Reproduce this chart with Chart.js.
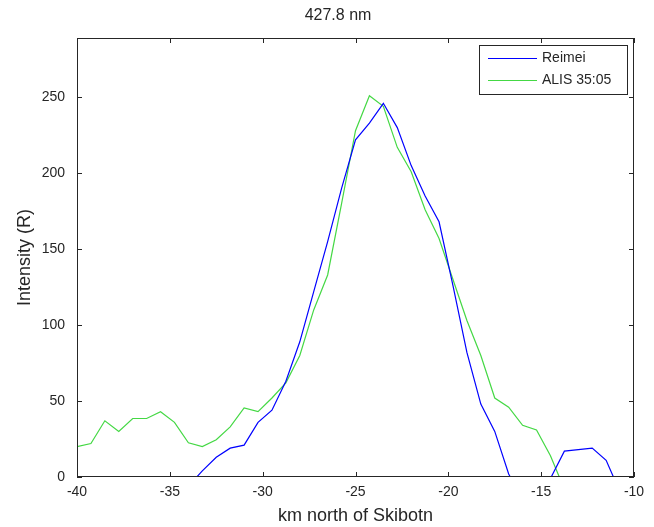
<!DOCTYPE html>
<html>
<head>
<meta charset="utf-8">
<script src="https://cdn.jsdelivr.net/npm/chart.js@4/dist/chart.umd.min.js"></script>
<style>
  html, body { margin: 0; padding: 0; background: #fff; }
  #wrap { width: 654px; height: 527px; }
</style>
</head>
<body>
<div id="wrap"><canvas id="profileChart" width="654" height="527"></canvas></div>
<script>
// distance grid (km north of Skibotn)
const kmNorth = [-40, -39.25, -38.5, -37.75, -37, -36.25, -35.5, -34.75, -34, -33.25,
    -32.5, -31.75, -31, -30.25, -29.5, -28.75, -28, -27.25, -26.5, -25.75,
    -25, -24.25, -23.5, -22.75, -22, -21.25, -20.5, -19.75, -19, -18.25,
    -17.5, -16.75, -16, -15.25, -14.5, -13.75, -13, -12.25, -11.5, -10.75, -10];

// intensities in Rayleigh (values below 0 are clipped by the axis)
const reimei = [null, null, null, null, null, null, null, null, -6, 4,
    13, 19, 21, 36, 44, 63, 89, 122, 155, 190,
    222, 233, 246, 230, 205, 185, 168, 126, 82, 48,
    30, 2, -15, -20, -1, 17, 18, 19, 11, -10, null];
const alis = [20, 22, 37, 30, 38.5, 38.5, 43, 36, 22.5, 20,
    24.5, 33, 45.5, 43, 52, 62, 80, 110, 133, 180,
    228, 251, 244, 217, 201, 176, 157, 130, 103, 80,
    52, 46, 34, 31, 14, -8, null, null, null, null, null];

const seriesNames = ['Reimei', 'ALIS 35:05'];
const chartTitle = '427.8 nm';
const xTickStep = 5;
const yTickStep = 50;

const textColor = '#262626';
const fontFamily = '"Liberation Sans", Arial, Helvetica, sans-serif';

function toPoints(values) {
    return kmNorth.map((x, i) => ({ x: x, y: values[i] }));
}

// title, box, inward ticks and legend drawn with the scales' own positions
const matlabAxes = {
    id: 'matlabAxes',
    afterDatasetsDraw(chart) {
        const { ctx, chartArea: a } = chart;
        const xs = chart.scales.x;
        const ys = chart.scales.y;
        const len = 5;
        ctx.save();
        ctx.strokeStyle = textColor;
        ctx.lineWidth = 1;
        ctx.strokeRect(a.left + 0.5, a.top + 0.5, a.right - a.left - 1, a.bottom - a.top - 1);
        ctx.beginPath();
        xs.ticks.forEach(t => {
            const px = Math.round(xs.getPixelForValue(t.value)) + 0.5;
            ctx.moveTo(px, a.bottom); ctx.lineTo(px, a.bottom - len);
            ctx.moveTo(px, a.top); ctx.lineTo(px, a.top + len);
        });
        ys.ticks.forEach(t => {
            const py = Math.round(ys.getPixelForValue(t.value)) + 0.5;
            ctx.moveTo(a.left, py); ctx.lineTo(a.left + len, py);
            ctx.moveTo(a.right, py); ctx.lineTo(a.right - len, py);
        });
        ctx.stroke();

        // title above the axes
        ctx.fillStyle = textColor;
        ctx.font = '16px ' + fontFamily;
        ctx.textAlign = 'center';
        ctx.textBaseline = 'middle';
        ctx.fillText(chartTitle, 338, 16);

        // legend box in the upper right corner
        const bx = 479.5, by = 45.5, bw = 148, bh = 49;
        ctx.fillStyle = '#fff';
        ctx.fillRect(bx, by, bw, bh);
        ctx.strokeRect(bx, by, bw, bh);
        ctx.font = '14px ' + fontFamily;
        ctx.textAlign = 'left';
        chart.data.datasets.forEach((ds, i) => {
            const ly = 58.5 + i * 22;
            ctx.strokeStyle = ds.borderColor;
            ctx.beginPath();
            ctx.moveTo(488, ly); ctx.lineTo(537, ly);
            ctx.stroke();
            ctx.fillStyle = textColor;
            ctx.fillText(ds.label, 542, ly);
        });
        ctx.restore();
    }
};

new Chart(document.getElementById('profileChart').getContext('2d'), {
    type: 'line',
    data: {
        datasets: [{
            label: seriesNames[0],
            data: toPoints(reimei),
            borderColor: '#0000ff',
            borderWidth: 1.2,
            pointRadius: 0,
            tension: 0,
            spanGaps: false,
            clip: 0
        }, {
            label: seriesNames[1],
            data: toPoints(alis),
            borderColor: '#44d844',
            borderWidth: 1.2,
            pointRadius: 0,
            tension: 0,
            spanGaps: false,
            clip: 0
        }]
    },
    options: {
        responsive: false,
        animation: false,
        devicePixelRatio: 1,
        layout: { padding: { left: 0, right: 20, top: 38, bottom: 0 } },
        plugins: {
            legend: { display: false },
            tooltip: { enabled: false },
            title: { display: false }
        },
        scales: {
            x: {
                type: 'linear',
                min: -40,
                max: -10,
                grid: { display: false, drawTicks: false },
                border: { display: false },
                ticks: {
                    stepSize: xTickStep,
                    padding: 7,
                    color: textColor,
                    font: { family: fontFamily, size: 14 },
                    maxRotation: 0
                },
                title: {
                    display: true,
                    text: 'km north of Skibotn',
                    color: textColor,
                    font: { family: fontFamily, size: 18 },
                    padding: { top: 0, bottom: 0 }
                },
                afterFit(scale) { scale.height = 50; }
            },
            y: {
                min: 0,
                max: 289,
                grid: { display: false, drawTicks: false },
                border: { display: false },
                ticks: {
                    stepSize: yTickStep,
                    includeBounds: false,
                    padding: 12,
                    color: textColor,
                    font: { family: fontFamily, size: 14 }
                },
                title: {
                    display: true,
                    text: 'Intensity (R)',
                    color: textColor,
                    font: { family: fontFamily, size: 18 },
                    padding: { top: 14, bottom: 0 }
                },
                afterFit(scale) { scale.width = 77; }
            }
        }
    },
    plugins: [matlabAxes]
});
</script>
</body>
</html>
